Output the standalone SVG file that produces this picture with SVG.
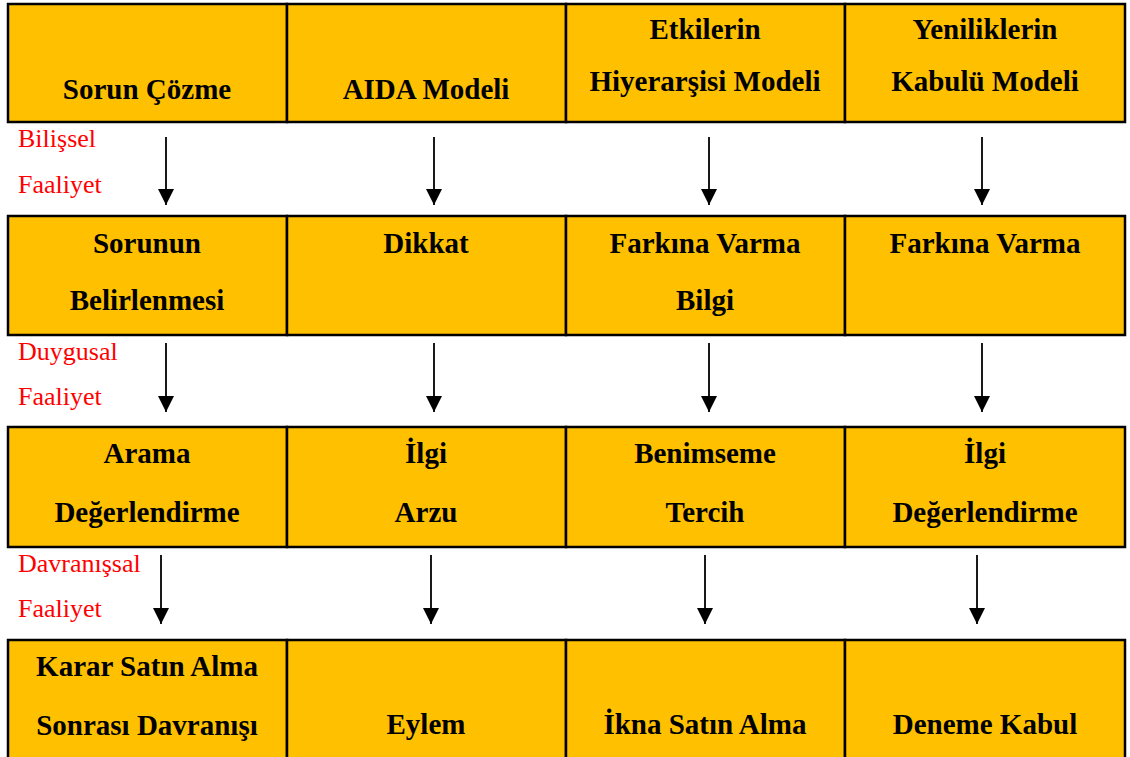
<svg xmlns="http://www.w3.org/2000/svg" width="1130" height="757" viewBox="0 0 1130 757">
<defs>
<style>
.cell{fill:#FFC000;stroke:#000;stroke-width:2.5}
.t{font-family:"Liberation Serif","Times New Roman",serif;font-weight:bold;font-size:29px;fill:#000;text-anchor:middle}
.r{font-family:"Liberation Serif","Times New Roman",serif;font-size:26px;fill:#FF0000}
.ar{stroke:#000;stroke-width:1.8;fill:none;marker-end:url(#ah)}
</style>
<marker id="ah" markerUnits="userSpaceOnUse" markerWidth="16" markerHeight="16" viewBox="0 0 16 16" refX="16" refY="8" orient="auto">
<path d="M0,0 L16,8 L0,16 Z" fill="#000"/>
</marker>
</defs>
<rect width="1130" height="757" fill="#fff"/>

<g id="row1">
<g id="n-sorun-cozme"><rect class="cell" x="8" y="4" width="279" height="118"/><text class="t" x="147" y="99">Sorun Çözme</text></g>
<g id="n-aida"><rect class="cell" x="287" y="4" width="279" height="118"/><text class="t" x="426" y="99">AIDA Modeli</text></g>
<g id="n-etkilerin"><rect class="cell" x="566" y="4" width="279" height="118"/><text class="t" x="705" y="39">Etkilerin</text><text class="t" x="705" y="91">Hiyerarşisi Modeli</text></g>
<g id="n-yenilik"><rect class="cell" x="845" y="4" width="280" height="118"/><text class="t" x="985" y="39">Yeniliklerin</text><text class="t" x="985" y="91">Kabulü Modeli</text></g>
</g>

<g id="row2">
<g id="n-sorunun"><rect class="cell" x="8" y="216" width="279" height="119"/><text class="t" x="147" y="253">Sorunun</text><text class="t" x="147" y="310">Belirlenmesi</text></g>
<g id="n-dikkat"><rect class="cell" x="287" y="216" width="279" height="119"/><text class="t" x="426" y="253">Dikkat</text></g>
<g id="n-farkina1"><rect class="cell" x="566" y="216" width="279" height="119"/><text class="t" x="705" y="253">Farkına Varma</text><text class="t" x="705" y="310">Bilgi</text></g>
<g id="n-farkina2"><rect class="cell" x="845" y="216" width="280" height="119"/><text class="t" x="985" y="253">Farkına Varma</text></g>
</g>

<g id="row3">
<g id="n-arama"><rect class="cell" x="8" y="427" width="279" height="120"/><text class="t" x="147" y="463">Arama</text><text class="t" x="147" y="522">Değerlendirme</text></g>
<g id="n-ilgi1"><rect class="cell" x="287" y="427" width="279" height="120"/><text class="t" x="426" y="463">İlgi</text><text class="t" x="426" y="522">Arzu</text></g>
<g id="n-benimseme"><rect class="cell" x="566" y="427" width="279" height="120"/><text class="t" x="705" y="463">Benimseme</text><text class="t" x="705" y="522">Tercih</text></g>
<g id="n-ilgi2"><rect class="cell" x="845" y="427" width="280" height="120"/><text class="t" x="985" y="463">İlgi</text><text class="t" x="985" y="522">Değerlendirme</text></g>
</g>

<g id="row4">
<g id="n-karar"><rect class="cell" x="8" y="640" width="279" height="130"/><text class="t" x="147" y="676">Karar Satın Alma</text><text class="t" x="147" y="735">Sonrası Davranışı</text></g>
<g id="n-eylem"><rect class="cell" x="287" y="640" width="279" height="130"/><text class="t" x="426" y="734">Eylem</text></g>
<g id="n-ikna"><rect class="cell" x="566" y="640" width="279" height="130"/><text class="t" x="705" y="734">İkna Satın Alma</text></g>
<g id="n-deneme"><rect class="cell" x="845" y="640" width="280" height="130"/><text class="t" x="985" y="734">Deneme Kabul</text></g>
</g>

<g id="labels">
<text class="r" x="18" y="147">Bilişsel</text>
<text class="r" x="18" y="193">Faaliyet</text>
<text class="r" x="18" y="360">Duygusal</text>
<text class="r" x="18" y="405">Faaliyet</text>
<text class="r" x="18" y="572">Davranışsal</text>
<text class="r" x="18" y="617">Faaliyet</text>
</g>

<g id="connectors">
<line class="ar" x1="166" y1="137" x2="166" y2="205"/>
<line class="ar" x1="434" y1="137" x2="434" y2="205"/>
<line class="ar" x1="709" y1="137" x2="709" y2="205"/>
<line class="ar" x1="982" y1="137" x2="982" y2="205"/>
<line class="ar" x1="166" y1="343" x2="166" y2="412"/>
<line class="ar" x1="434" y1="343" x2="434" y2="412"/>
<line class="ar" x1="709" y1="343" x2="709" y2="412"/>
<line class="ar" x1="982" y1="343" x2="982" y2="412"/>
<line class="ar" x1="161" y1="555" x2="161" y2="624"/>
<line class="ar" x1="431" y1="555" x2="431" y2="624"/>
<line class="ar" x1="705" y1="555" x2="705" y2="624"/>
<line class="ar" x1="977" y1="555" x2="977" y2="624"/>
</g>
</svg>
